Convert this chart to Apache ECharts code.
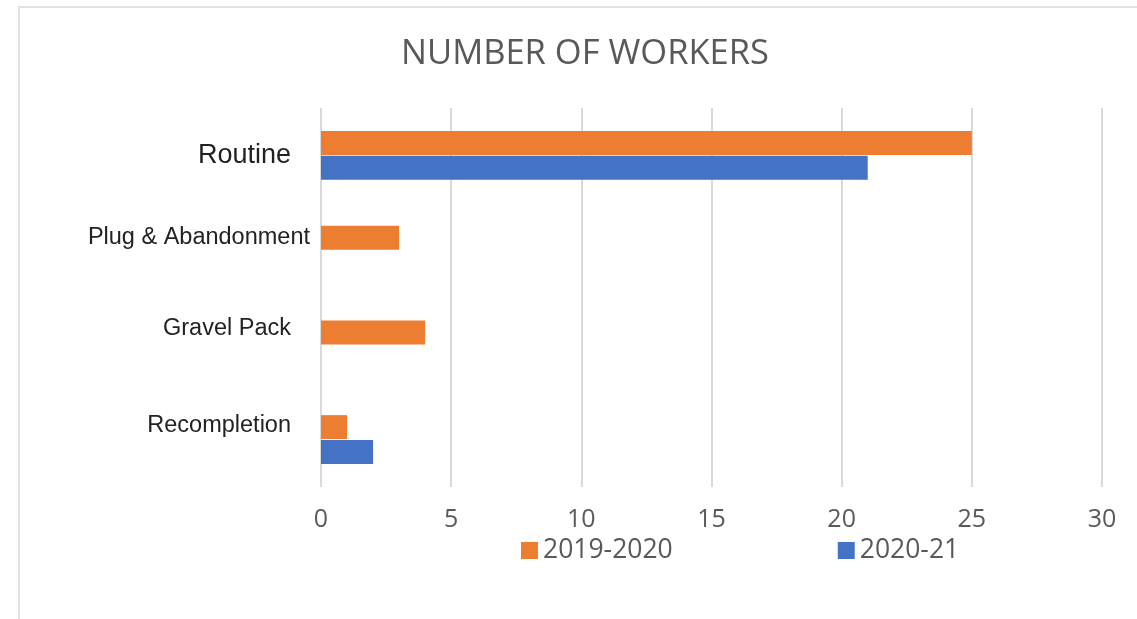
<!DOCTYPE html>
<html>
<head>
<meta charset="utf-8">
<script src="https://cdn.jsdelivr.net/npm/echarts@6/dist/echarts.min.js"></script>
<style>
  html, body { margin: 0; padding: 0; background: #fff; }
  #chart { width: 1137px; height: 619px; }
</style>
</head>
<body>
<div id="chart"></div>
<script>
// 数据
var categories = ['Routine', 'Plug & Abandonment', 'Gravel Pack', 'Recompletion'];
var workers2019 = [25, 3, 4, 1];
var workers2020 = [21, 0, 0, 2];
var xTicks = [0, 5, 10, 15, 20, 25, 30];

// 每个分类标签的样式 key
var labelKeys = { 'Routine': 'big', 'Plug & Abandonment': 'plug', 'Gravel Pack': 'norm', 'Recompletion': 'rec' };

var myChart = echarts.init(document.getElementById('chart'));
var option = {
  backgroundColor: '#fff',
  animation: false,
  title: {
    text: 'NUMBER OF WORKERS',
    left: 396,
    top: 32,
    textStyle: { fontFamily: 'Open Sans', fontSize: 34.5, fontWeight: 'normal', color: '#595959' }
  },
  graphic: [{
    type: 'rect',
    shape: { x: 19, y: 7, width: 1140, height: 640 },
    style: { fill: 'none', stroke: '#e3e3e3', lineWidth: 2 },
    silent: true
  }],
  legend: {
    top: 532,
    left: 516,
    itemWidth: 17,
    itemHeight: 17,
    itemGap: 165,
    icon: 'rect',
    textStyle: { fontFamily: 'Open Sans', fontSize: 26.5, color: '#595959' },
    data: ['2019-2020', '2020-21']
  },
  grid: {
    left: 321,
    right: 35,
    top: 108,
    bottom: 132
  },
  xAxis: {
    type: 'value',
    min: 0,
    max: 30,
    interval: 5,
    axisLine: { show: false },
    axisTick: { show: false },
    splitLine: { lineStyle: { color: '#d9d9d9', width: 2 } },
    axisLabel: {
      margin: 20,
      fontFamily: 'Open Sans',
      fontSize: 25,
      color: '#595959',
      formatter: function (v) { return xTicks.indexOf(v) >= 0 ? String(v) : ''; }
    }
  },
  yAxis: {
    type: 'category',
    inverse: true,
    data: categories,
    axisLine: { show: false },
    axisTick: { show: false },
    axisLabel: {
      margin: 30,
      formatter: function (v) { return '{' + labelKeys[v] + '|' + v + '}'; },
      rich: {
        big: { fontFamily: 'Liberation Sans', fontSize: 27, color: '#222', padding: [0, 0, 0, 0] },
        plug: { fontFamily: 'Liberation Sans', fontSize: 23.5, color: '#222', padding: [0, -19, 26, 0] },
        norm: { fontFamily: 'Liberation Sans', fontSize: 23.5, color: '#222', padding: [0, 0, 32, 0] },
        rec: { fontFamily: 'Liberation Sans', fontSize: 23.5, color: '#222', padding: [0, 0, 28, 0] }
      }
    }
  },
  series: [
    {
      name: '2019-2020',
      type: 'bar',
      barWidth: 24,
      barGap: '4%',
      itemStyle: { color: '#ED7D31' },
      data: workers2019
    },
    {
      name: '2020-21',
      type: 'bar',
      barWidth: 24,
      itemStyle: { color: '#4472C4' },
      data: workers2020
    }
  ]
};
myChart.setOption(option);
</script>
</body>
</html>
